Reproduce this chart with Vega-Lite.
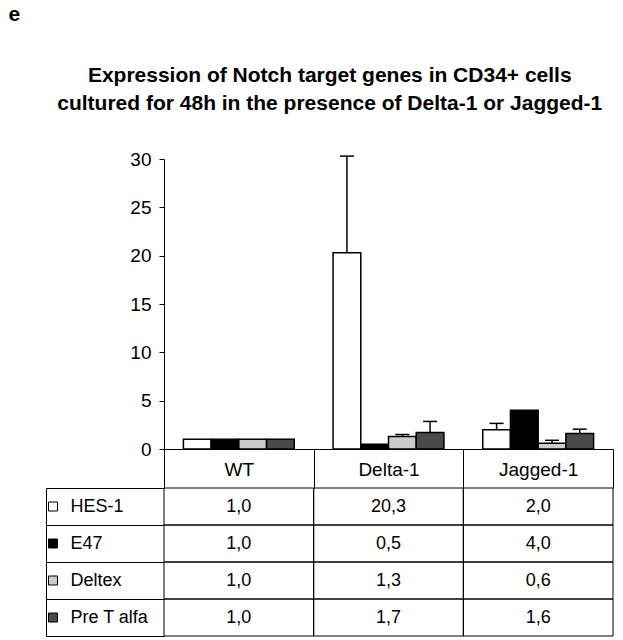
{
  "$schema": "https://vega.github.io/schema/vega-lite/v6.json",
  "padding": {"left": 8, "top": 4, "right": 0, "bottom": 0},
  "background": "white",
  "config": {
    "font": "Liberation Sans",
    "view": {"stroke": null},
    "locale": {"number": {"decimal": ",", "thousands": ".", "grouping": [3], "currency": ["", ""]}},
    "axis": {"domainColor": "black", "tickColor": "black", "labelColor": "black", "labelFont": "Liberation Sans", "grid": false}
  },
  "datasets": {
    "expr": [
      {"condition": "WT", "gene": "HES-1", "value": 1.0, "upper": null},
      {"condition": "WT", "gene": "E47", "value": 1.0, "upper": null},
      {"condition": "WT", "gene": "Deltex", "value": 1.0, "upper": null},
      {"condition": "WT", "gene": "Pre T alfa", "value": 1.0, "upper": null},
      {"condition": "Delta-1", "gene": "HES-1", "value": 20.3, "upper": 30.3},
      {"condition": "Delta-1", "gene": "E47", "value": 0.5, "upper": null},
      {"condition": "Delta-1", "gene": "Deltex", "value": 1.3, "upper": 1.5},
      {"condition": "Delta-1", "gene": "Pre T alfa", "value": 1.7, "upper": 2.85},
      {"condition": "Jagged-1", "gene": "HES-1", "value": 2.0, "upper": 2.65},
      {"condition": "Jagged-1", "gene": "E47", "value": 4.0, "upper": null},
      {"condition": "Jagged-1", "gene": "Deltex", "value": 0.6, "upper": 0.9},
      {"condition": "Jagged-1", "gene": "Pre T alfa", "value": 1.6, "upper": 2.05}
    ]
  },
  "title": {"text": "e", "anchor": "start", "fontSize": 21, "fontWeight": "bold", "dx": -37, "offset": 40, "color": "black", "font": "Liberation Sans"},
  "spacing": 39,
  "bounds": "flush",
  "resolve": {"scale": {"fill": "independent"}},
  "vconcat": [
    {
      "width": 449,
      "height": 290,
      "title": {
        "text": ["Expression of Notch target genes in CD34+ cells", "cultured for 48h in the presence of Delta-1 or Jagged-1"],
        "fontSize": 21, "fontWeight": "bold", "lineHeight": 28, "anchor": "middle", "frame": "bounds", "offset": 36, "color": "black", "font": "Liberation Sans"
      },
      "data": {"name": "expr"},
      "encoding": {
        "x": {
          "field": "condition", "type": "nominal", "sort": ["WT", "Delta-1", "Jagged-1"],
          "scale": {"paddingInner": 0, "paddingOuter": 0},
          "axis": {"title": null, "tickBand": "extent", "tickSize": 39, "tickWidth": 1, "domainWidth": 1, "labelPadding": -19, "labelBaseline": "middle", "labelFontSize": 19, "labelAngle": 0}
        },
        "xOffset": {
          "field": "gene", "type": "nominal", "sort": ["HES-1", "E47", "Deltex", "Pre T alfa"],
          "scale": {"paddingInner": 0, "paddingOuter": 0.7}
        }
      },
      "layer": [
        {
          "mark": {"type": "bar", "stroke": "black", "strokeWidth": 1.5},
          "encoding": {
            "y": {
              "field": "value", "type": "quantitative", "scale": {"domain": [0, 30]},
              "axis": {"title": null, "values": [0, 5, 10, 15, 20, 25, 30], "tickSize": 5, "labelPadding": 8, "labelFontSize": 19, "minExtent": 118, "domainWidth": 1}
            },
            "fill": {
              "field": "gene", "type": "nominal",
              "scale": {"domain": ["HES-1", "E47", "Deltex", "Pre T alfa"], "range": ["white", "black", "#cccccc", "#4a4a4a"]},
              "legend": null
            }
          }
        },
        {
          "transform": [{"filter": "datum.upper != null"}],
          "mark": {"type": "rule", "color": "black", "strokeWidth": 1.5},
          "encoding": {
            "y": {"field": "value", "type": "quantitative"},
            "y2": {"field": "upper"}
          }
        },
        {
          "transform": [{"filter": "datum.upper != null"}],
          "mark": {"type": "tick", "color": "black", "thickness": 1.5, "size": 14, "opacity": 1},
          "encoding": {
            "y": {"field": "upper", "type": "quantitative"}
          }
        }
      ]
    },
    {
      "width": 449,
      "height": 148,
      "data": {"name": "expr"},
      "encoding": {
        "x": {
          "field": "condition", "type": "nominal", "sort": ["WT", "Delta-1", "Jagged-1"],
          "scale": {"paddingInner": 0, "paddingOuter": 0}, "axis": null
        },
        "y": {
          "field": "gene", "type": "nominal", "sort": ["HES-1", "E47", "Deltex", "Pre T alfa"],
          "scale": {"paddingInner": 0, "paddingOuter": 0},
          "axis": {"orient": "left", "offset": 118, "title": null, "tickBand": "extent", "tickSize": -118, "tickWidth": 1, "domainWidth": 1, "labelAlign": "left", "labelBaseline": "middle", "labelPadding": 94, "labelFontSize": 18}
        }
      },
      "layer": [
        {
          "mark": {"type": "rect", "stroke": "black", "strokeWidth": 1, "fillOpacity": 0},
          "encoding": {
            "fill": {
              "field": "gene", "type": "nominal",
              "scale": {"domain": ["HES-1", "E47", "Deltex", "Pre T alfa"], "range": ["white", "black", "#cccccc", "#4a4a4a"]},
              "legend": {
                "orient": "left", "title": null, "offset": -13, "padding": 0, "direction": "vertical",
                "clipHeight": 37, "rowPadding": 0, "symbolType": "square", "symbolSize": 81,
                "symbolStrokeColor": "black", "symbolStrokeWidth": 1, "symbolOffset": 0, "labelOffset": 0,
                "labelExpr": "''", "symbolOpacity": 1,
                "encode": {"symbols": {"update": {"fillOpacity": {"value": 1}, "stroke": {"value": "black"}, "strokeWidth": {"value": 1}}}}
              }
            }
          }
        },
        {
          "mark": {"type": "text", "fontSize": 18, "color": "black", "font": "Liberation Sans"},
          "encoding": {"text": {"field": "value", "type": "quantitative", "format": ".1f"}}
        }
      ]
    }
  ]
}
